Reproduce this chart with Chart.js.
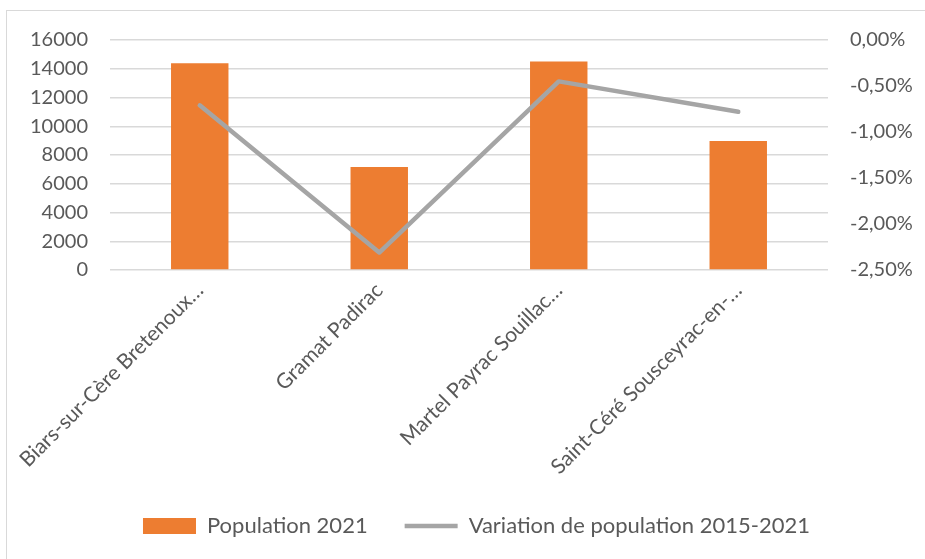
<!DOCTYPE html>
<html>
<head>
<meta charset="utf-8">
<script src="https://cdn.jsdelivr.net/npm/chart.js@4.4.1/dist/chart.umd.min.js"></script>
<style>
  html, body { margin: 0; padding: 0; background: #fff; }
  body { width: 925px; height: 559px; overflow: hidden; position: relative; }
  #frame { position: absolute; left: 6px; top: 10px; width: 940px; height: 570px; border: 1px solid #d9d9d9; }
  #wrap { position: absolute; left: 0; top: 0; width: 925px; height: 559px; }
</style>
</head>
<body>
<div id="frame"></div>
<div id="wrap"><canvas id="chart"></canvas></div>
<script>
// Données
const categories = ["Biars-sur-Cère Bretenoux…", "Gramat Padirac", "Martel Payrac Souillac…", "Saint-Céré Sousceyrac-en-…"];
const population2021 = [14380, 7170, 14510, 8970];
const variation20152021 = [-0.71, -2.31, -0.45, -0.78]; // en %

const seriesNames = ["Population 2021", "Variation de population 2015-2021"];
const popAxis = { min: 0, max: 16000, step: 2000 };
const pctAxis = { min: -2.5, max: 0, step: 0.5 };

const textColor = "#595959";
const tickFont = { family: "Lato", size: 20 };
const catFont = { family: "Lato", size: 21 };
const legendFont = { family: "Lato", size: 22 };

function formatPct(v) {
    return v.toFixed(2).replace(".", ",") + "%";
}

const ctx = document.getElementById("chart").getContext("2d");
new Chart(ctx, {
    type: "bar",
    data: {
        labels: categories,
        datasets: [
            {
                label: seriesNames[0],
                data: population2021,
                backgroundColor: "#ED7D31",
                barPercentage: 0.32,
                categoryPercentage: 1,
                pointStyle: "rect",
                yAxisID: "y",
                order: 1
            },
            {
                type: "line",
                label: seriesNames[1],
                data: variation20152021,
                borderColor: "#A5A5A5",
                backgroundColor: "#A5A5A5",
                borderWidth: 4.5,
                borderCapStyle: "round",
                borderJoinStyle: "round",
                pointRadius: 0,
                pointStyle: "line",
                tension: 0,
                yAxisID: "y1",
                order: 0
            }
        ]
    },
    options: {
        responsive: true,
        maintainAspectRatio: false,
        animation: false,
        layout: { padding: { left: 28, right: 0, top: 40, bottom: 12 } },
        plugins: {
            tooltip: { enabled: false },
            legend: {
                position: "bottom",
                labels: {
                    usePointStyle: true,
                    pointStyleWidth: 53,
                    boxHeight: 16,
                    padding: 37,
                    color: textColor,
                    font: legendFont,
                    sort: (a, b) => a.datasetIndex - b.datasetIndex
                }
            }
        },
        scales: {
            x: {
                grid: { display: false },
                border: { display: false },
                ticks: {
                    color: textColor,
                    font: catFont,
                    minRotation: 45,
                    maxRotation: 45,
                    autoSkip: false,
                    padding: 0
                },
                afterFit: scale => {
                    scale.height = 208;
                    scale.paddingLeft = 0;
                    scale.paddingRight = 0;
                }
            },
            y: {
                position: "left",
                min: popAxis.min,
                max: popAxis.max,
                grid: { color: "#d9d9d9", lineWidth: 1.5, drawTicks: false },
                border: { display: false },
                ticks: {
                    stepSize: popAxis.step,
                    color: textColor,
                    font: tickFont,
                    padding: 22,
                    callback: v => String(v)
                },
                afterFit: scale => { scale.width = 82; }
            },
            y1: {
                position: "right",
                min: pctAxis.min,
                max: pctAxis.max,
                grid: { display: false, drawTicks: false },
                border: { display: false },
                ticks: {
                    stepSize: pctAxis.step,
                    color: textColor,
                    font: tickFont,
                    padding: 22,
                    callback: v => formatPct(v)
                },
                afterFit: scale => { scale.width = 97; }
            }
        }
    }
});
</script>
</body>
</html>
